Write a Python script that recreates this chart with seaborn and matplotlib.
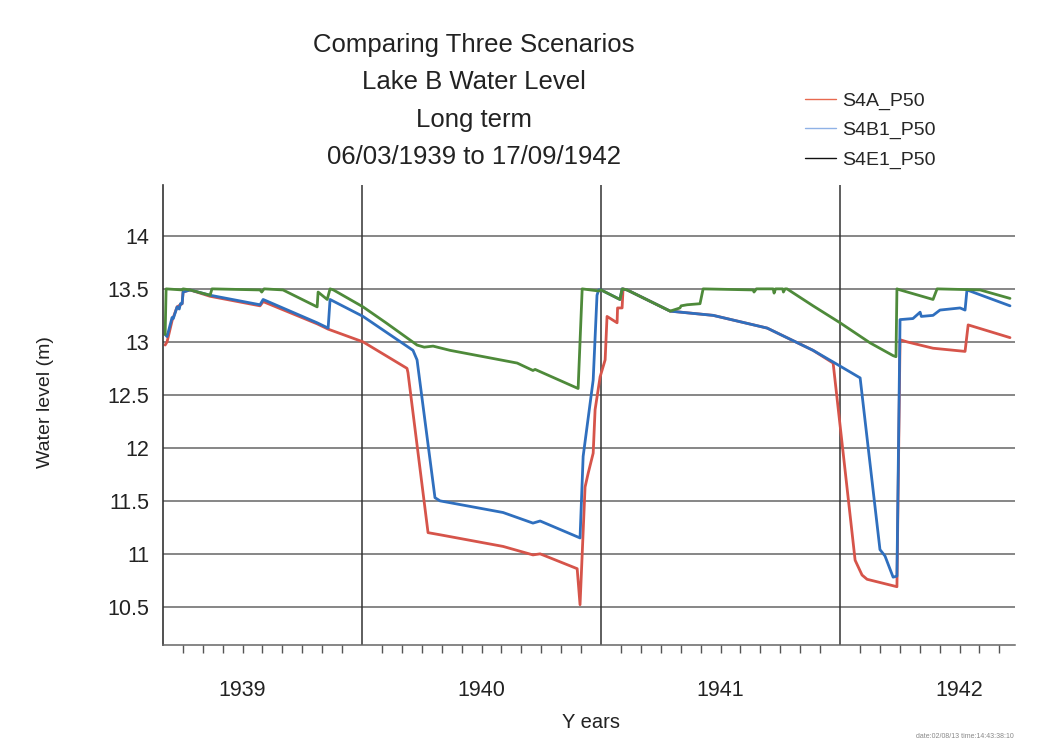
import numpy as np
import pandas as pd
import matplotlib
matplotlib.use("Agg")
import matplotlib.pyplot as plt
from matplotlib.lines import Line2D
import seaborn as sns

# ---------------- data (decimal years, water level in m) ----------------
scenarios = ["S4A_P50", "S4B1_P50", "S4E1_P50"]

s4a_year = [1939.176, 1939.184, 1939.205, 1939.226, 1939.247, 1939.251, 1939.280, 1939.364,
            1939.573, 1939.586, 1939.812, 1939.858, 1940.004, 1940.188, 1940.192, 1940.276,
            1940.326, 1940.590, 1940.715, 1940.745, 1940.900, 1940.912, 1940.933, 1940.946,
            1940.967, 1940.975, 1940.996, 1941.017, 1941.025, 1941.067, 1941.069, 1941.088,
            1941.092, 1941.109, 1941.289, 1941.469, 1941.695, 1941.887, 1941.971, 1942.063,
            1942.092, 1942.113, 1942.238, 1942.251, 1942.280, 1942.389, 1942.523, 1942.536,
            1942.711]
s4a_level = [12.97, 13.00, 13.20, 13.33, 13.36, 13.47, 13.49, 13.43,
             13.34, 13.38, 13.17, 13.12, 13.00, 12.75, 12.71, 11.20,
             11.18, 11.07, 10.99, 11.00, 10.86, 10.52, 11.63, 11.76,
             11.95, 12.36, 12.67, 12.83, 13.24, 13.18, 13.32, 13.32,
             13.50, 13.49, 13.29, 13.25, 13.13, 12.92, 12.80, 10.94,
             10.80, 10.76, 10.69, 13.02, 13.00, 12.94, 12.91, 13.16,
             13.04]

s4b1_year = [1939.176, 1939.184, 1939.205, 1939.210, 1939.226, 1939.235, 1939.240, 1939.247,
             1939.251, 1939.280, 1939.364, 1939.573, 1939.586, 1939.812, 1939.858, 1939.866,
             1940.004, 1940.213, 1940.230, 1940.305, 1940.326, 1940.590, 1940.715, 1940.745,
             1940.912, 1940.925, 1940.967, 1940.983, 1940.990, 1941.000, 1941.079, 1941.088,
             1941.109, 1941.289, 1941.469, 1941.695, 1941.887, 1941.971, 1942.084, 1942.167,
             1942.188, 1942.222, 1942.238, 1942.251, 1942.305, 1942.335, 1942.340, 1942.389,
             1942.418, 1942.502, 1942.523, 1942.531, 1942.711]
s4b1_level = [13.07, 13.05, 13.23, 13.22, 13.33, 13.31, 13.36, 13.36,
              13.47, 13.49, 13.44, 13.35, 13.40, 13.18, 13.13, 13.40,
              13.24, 12.92, 12.83, 11.53, 11.50, 11.39, 11.29, 11.31,
              11.15, 11.92, 12.64, 13.44, 13.49, 13.49, 13.40, 13.50,
              13.49, 13.29, 13.25, 13.13, 12.92, 12.81, 12.66, 11.04,
              10.98, 10.78, 10.79, 13.21, 13.22, 13.28, 13.24, 13.25,
              13.30, 13.32, 13.30, 13.49, 13.34]

s4e1_year = [1939.176, 1939.180, 1939.247, 1939.251, 1939.280, 1939.364, 1939.372, 1939.573,
             1939.580, 1939.590, 1939.669, 1939.812, 1939.816, 1939.854, 1939.866, 1939.880,
             1940.004, 1940.100, 1940.230, 1940.260, 1940.297, 1940.368, 1940.649, 1940.715,
             1940.724, 1940.904, 1940.921, 1940.990, 1941.000, 1941.079, 1941.088, 1941.109,
             1941.289, 1941.330, 1941.335, 1941.360, 1941.414, 1941.427, 1941.636, 1941.640,
             1941.650, 1941.720, 1941.724, 1941.730, 1941.760, 1941.763, 1941.770, 1941.778,
             1941.887, 1942.000, 1942.126, 1942.222, 1942.234, 1942.238, 1942.251, 1942.389,
             1942.406, 1942.586, 1942.711]
s4e1_level = [13.07, 13.50, 13.49, 13.50, 13.49, 13.44, 13.50, 13.49,
              13.47, 13.50, 13.49, 13.33, 13.47, 13.40, 13.50, 13.49,
              13.33, 13.18, 12.97, 12.95, 12.96, 12.92, 12.80, 12.73,
              12.74, 12.56, 13.50, 13.48, 13.49, 13.40, 13.50, 13.49,
              13.29, 13.32, 13.34, 13.35, 13.36, 13.50, 13.49, 13.47,
              13.50, 13.50, 13.46, 13.50, 13.50, 13.47, 13.50, 13.50,
              13.34, 13.18, 12.99, 12.87, 12.86, 13.50, 13.49, 13.40,
              13.50, 13.49, 13.41]

year_labels = ["1939", "1940", "1941", "1942"]
y_ticks = [10.5, 11, 11.5, 12, 12.5, 13, 13.5, 14]
y_tick_labels = ["10.5", "11", "11.5", "12", "12.5", "13", "13.5", "14"]

title_lines = ["Comparing Three Scenarios", "Lake B Water Level", "Long term",
               "06/03/1939 to 17/09/1942"]

# ---------------- build long frame ----------------
df = pd.concat([
    pd.DataFrame({"year": s4a_year, "level": s4a_level, "scenario": scenarios[0]}),
    pd.DataFrame({"year": s4b1_year, "level": s4b1_level, "scenario": scenarios[1]}),
    pd.DataFrame({"year": s4e1_year, "level": s4e1_level, "scenario": scenarios[2]}),
], ignore_index=True)

sns.set_theme(style="white")
plt.rcParams["font.family"] = ["Liberation Sans", "DejaVu Sans"]

line_colors = {"S4A_P50": "#d6544a", "S4B1_P50": "#2f6fbe", "S4E1_P50": "#4e8a3a"}
legend_colors = ["#e8694f", "#8fb2e6", "#111111"]

fig = plt.figure(figsize=(10.55, 7.53), dpi=100)
ax = fig.add_axes([163 / 1055, 1 - 645 / 753, (1015 - 163) / 1055, (645 - 185) / 753])

sns.lineplot(data=df, x="year", y="level", hue="scenario", hue_order=scenarios,
             palette=line_colors, estimator=None, sort=False, linewidth=2.0,
             legend=False, ax=ax)

x0, x1 = 1939.167, 1942.732
ax.set_xlim(x0, x1)
ax.set_ylim(10.14, 14.48)

# y axis
ax.set_yticks(y_ticks)
ax.set_yticklabels(y_tick_labels)
ax.tick_params(axis="y", which="major", length=8, width=1.0, color="#777777",
               labelsize=15.5, pad=2, labelcolor="#222222")
for yv in y_ticks:
    ax.axhline(yv, color="#666666", lw=1.1, zorder=0.5)

# x axis: year boundaries as major ticks + vertical grid, monthly minor ticks
years = [int(s) for s in year_labels]
bounds = [y for y in years + [years[-1] + 1] if x0 < y < x1]
ax.set_xticks(bounds)
ax.set_xticklabels([""] * len(bounds))
months = [y + m / 12 for y in range(years[0], years[-1] + 1) for m in range(1, 12)]
months = [m for m in months if x0 < m < x1]
ax.set_xticks(months, minor=True)
ax.tick_params(axis="x", which="major", length=12, width=1.2, color="#444444", direction="out")
ax.tick_params(axis="x", which="minor", length=6, width=1.0, color="#555555", direction="out",
               bottom=True)
for b in bounds:
    ax.axvline(b, color="#333333", lw=1.1, zorder=0.5)

for lab in year_labels:
    xm = int(lab) + 0.5
    ax.text(xm, -0.098, lab, transform=ax.get_xaxis_transform(), ha="center", va="center",
            fontsize=15.5, color="#222222")

for side in ["top", "right"]:
    ax.spines[side].set_visible(False)
ax.spines["left"].set_color("#333333")
ax.spines["left"].set_linewidth(1.2)
ax.spines["bottom"].set_color("#666666")
ax.spines["bottom"].set_linewidth(1.1)

ax.set_xlabel("")
ax.set_ylabel("")
fig.text(45 / 1055, 1 - 402 / 753, "Water level (m)", rotation=90, ha="center", va="center",
         fontsize=14, color="#222222")
fig.text(591 / 1055, 1 - 722 / 753, "Y ears", ha="center", va="center",
         fontsize=14.5, color="#222222")

# title
for i, line in enumerate(title_lines):
    fig.text(474 / 1055, 1 - (45 + i * 37.3) / 753, line, ha="center", va="center",
             fontsize=18.5, color="#222222")

# legend
handles = [Line2D([0], [0], color=c, lw=1.0) for c in legend_colors]
fig.legend(handles, scenarios, loc="upper left", bbox_to_anchor=(797 / 1055, 1 - 84 / 753),
           frameon=False, fontsize=14, handlelength=1.6, handletextpad=0.3,
           labelspacing=0.62, borderaxespad=0)

fig.text(965 / 1055, 1 - 736 / 753, "date:02/08/13 time:14:43:38:10", ha="center",
         va="center", fontsize=5, color="#888888")

fig.savefig("out.png", dpi=100, facecolor="white")
